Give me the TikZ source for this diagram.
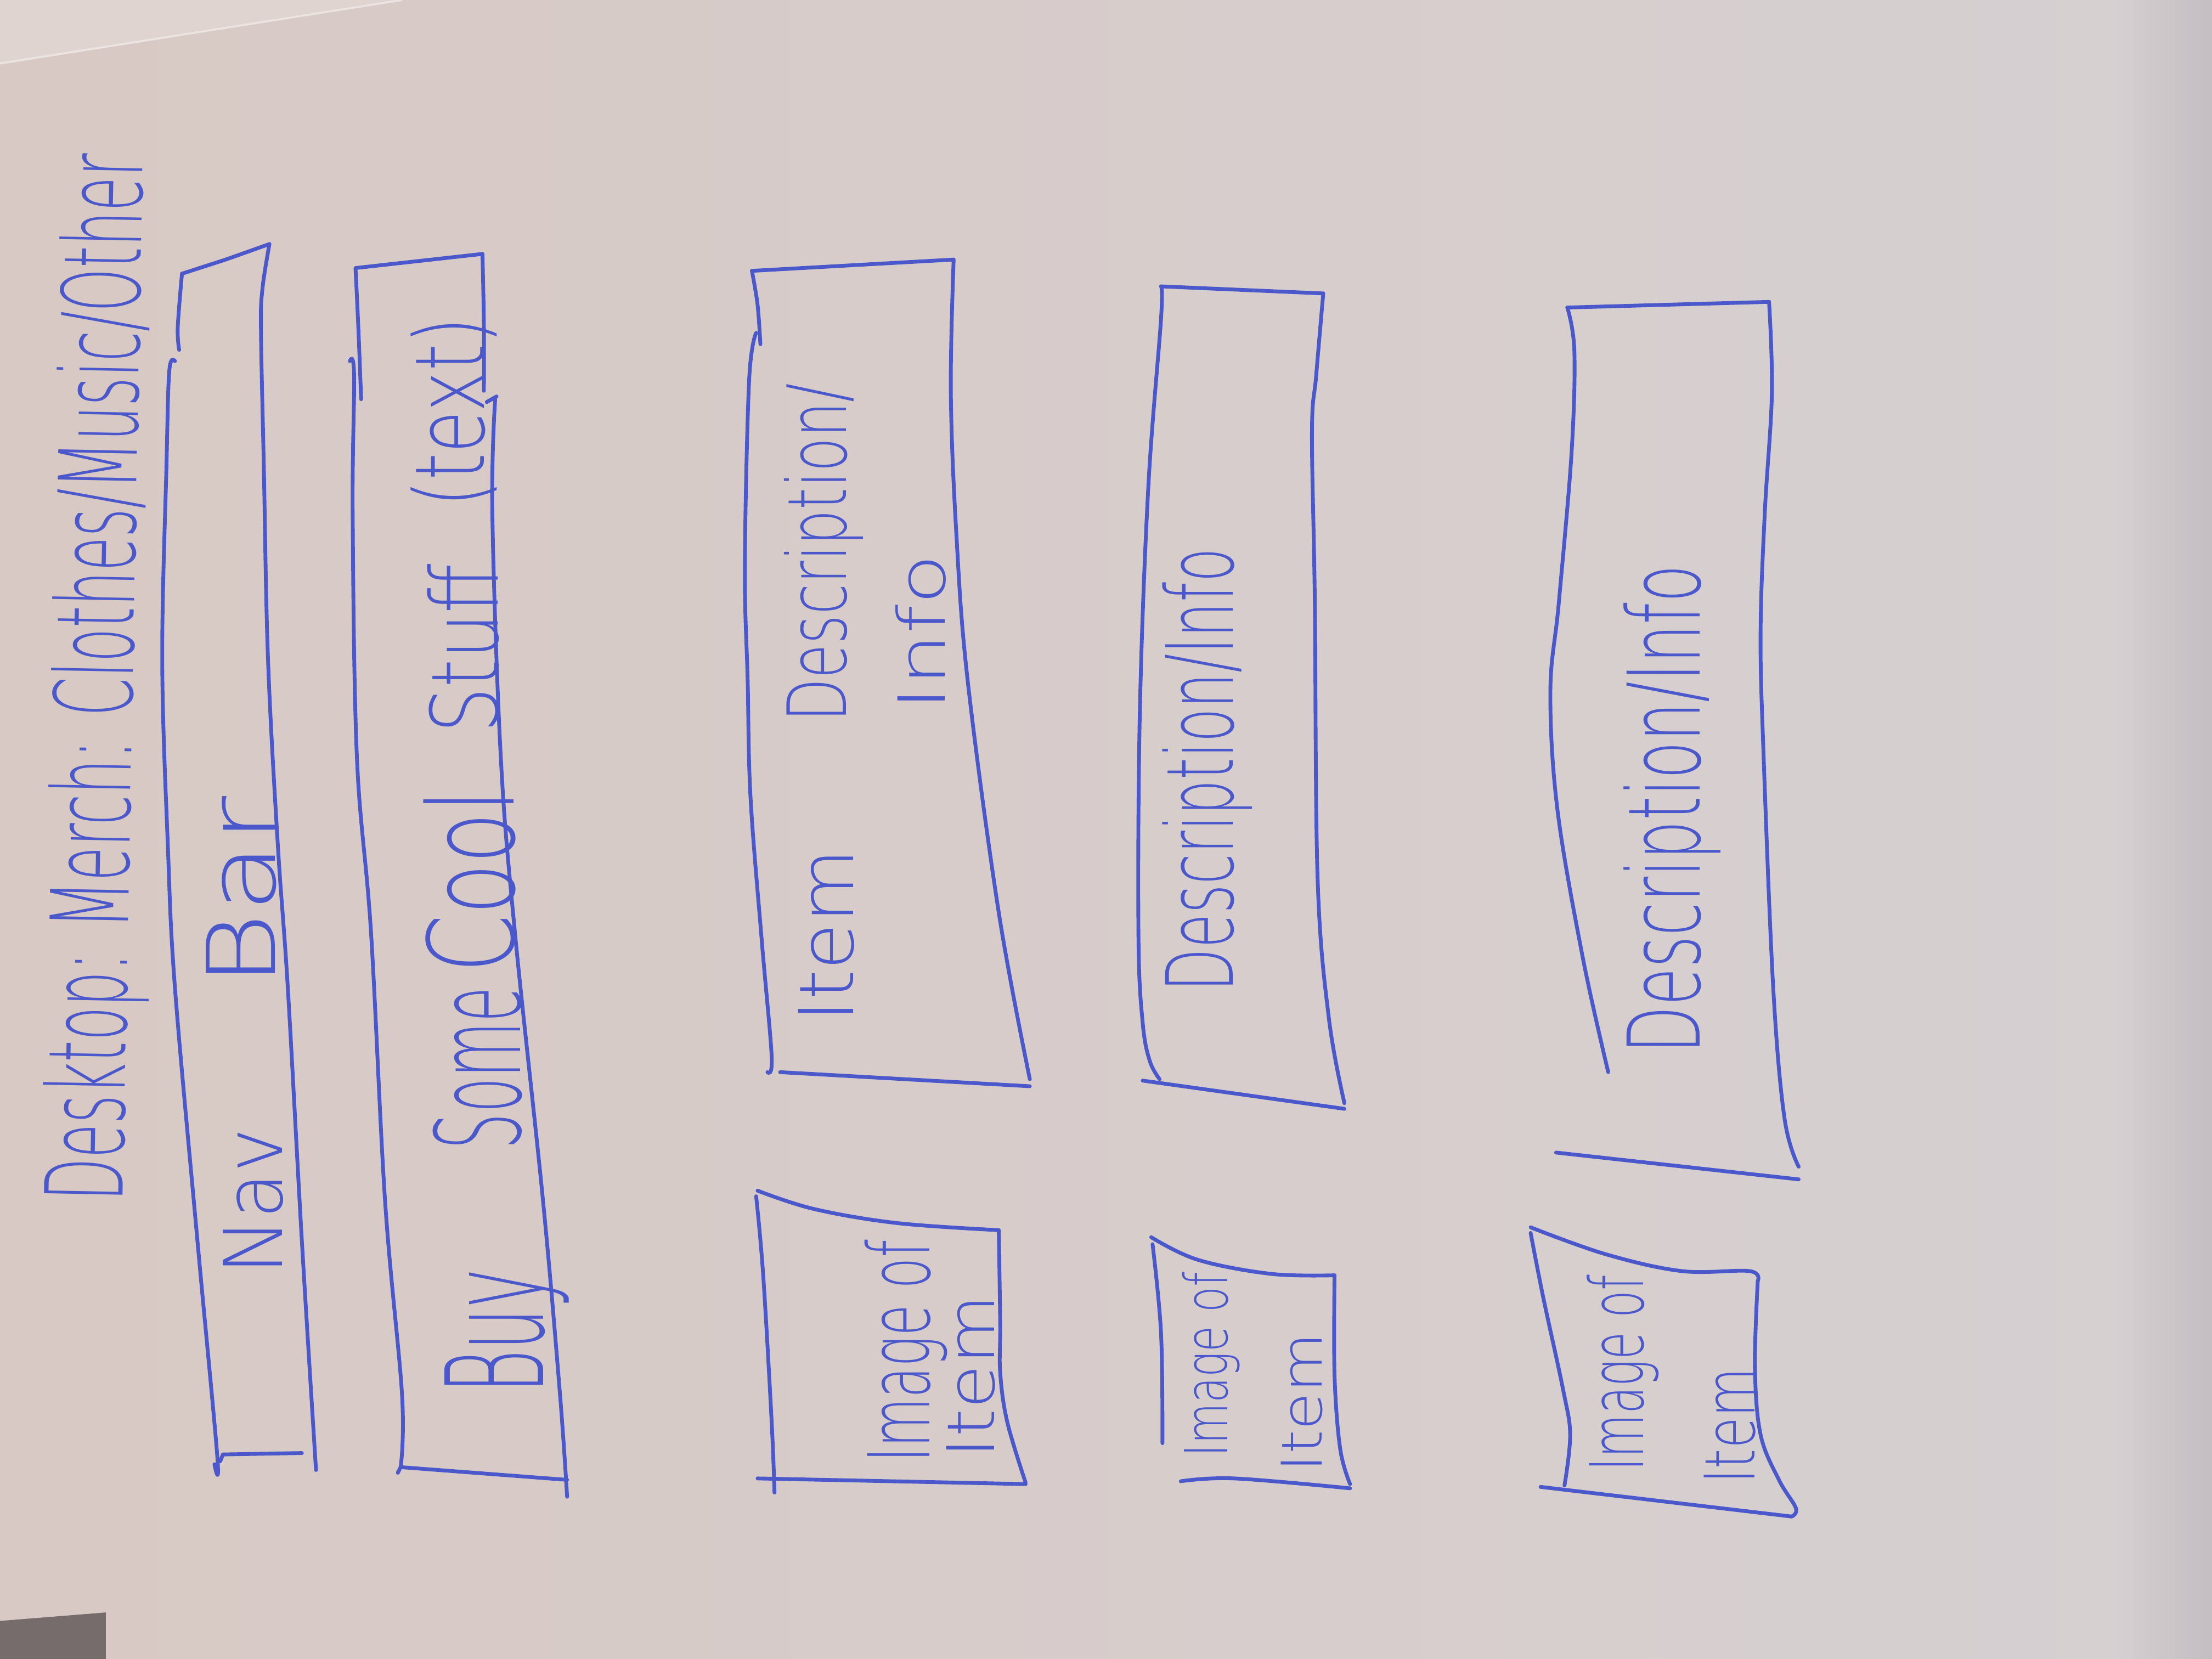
\documentclass[tikz,border=0pt]{standalone}
\usepackage{fontspec}
\usepackage{graphicx}
\newfontfamily\handfont{DejaVu Sans ExtraLight}
\newlength\hu
\setlength\hu{0.025cm}
% text stretched to a given length and ascender height (in sketch units)
\newcommand\hw[3]{\resizebox{#1\hu}{#2\hu}{\handfont #3}}
\definecolor{ink}{RGB}{74,88,204}
\definecolor{paperL}{RGB}{216,201,196}
\definecolor{paperM}{RGB}{222,212,209}
\definecolor{paperR}{RGB}{214,208,210}
\definecolor{paperEdge}{RGB}{196,189,193}
\definecolor{desk}{RGB}{118,108,107}
\begin{document}
\begin{tikzpicture}[x=0.025cm,y=-0.025cm,
  inkline/.style={draw=ink, line width=1.9pt, line cap=round, line join=round},
  handtext/.style={inner sep=0pt, anchor=base west, text=ink, rotate=90}]
\useasboundingbox (0,0) rectangle (1568,1176);
% paper
\shade[left color=paperL, middle color=paperM, right color=paperR, shading angle=90] (0,0) rectangle (1568,1176);
\shade[left color=paperR, right color=paperEdge, shading angle=90] (1500,0) rectangle (1568,1176);
\fill[paperL!80!white] (0,0) -- (285,0) -- (0,45) -- cycle;
\draw[paperL!50!white, line width=1pt] (0,45) -- (285,0);
\fill[desk] (0,1149) -- (75,1143) -- (75,1176) -- (0,1176) -- cycle;

% title
\node[handtext, rotate=-1.1] (title) at (87,852) {\hw{742}{58}{Desktop: Merch: Clothes/Music/Other}};

% nav bar
\draw[inkline] (129,194) -- (160,184) -- (191,173);
\draw[inkline] plot[smooth, tension=0.6] coordinates {(129,194) (126,232) (127,248)};
\draw[inkline] plot[smooth, tension=0.6] coordinates {(124,256) (120,263) (118,330) (115,468) (119,600) (124,700) (140,880) (154,1032) (152,1038)};
\draw[inkline] plot[smooth, tension=0.6] coordinates {(191,173) (186,205) (185,235) (187,330) (190,468) (197,600) (204,700) (214,880) (224,1042)};
\draw[inkline] (156,1036) -- (158,1031) -- (214,1030);
\node[handtext] (nav) at (200,904) {\hw{104}{42}{Nav}};
\node[handtext] (bar) at (195,700) {\hw{135}{49}{Bar}};

% banner
\draw[inkline] (252,190) -- (342,180);
\draw[inkline] plot[smooth, tension=0.6] coordinates {(252,190) (254,232) (256,283)};
\draw[inkline] plot[smooth, tension=0.6] coordinates {(248,256) (251,266) (250,364) (253,537) (263,661) (273,852) (285,989) (284,1040)};
\draw[inkline] plot[smooth, tension=0.6] coordinates {(342,180) (343,230) (343,277)};
\draw[inkline] (345,285) -- (352,281);
\draw[inkline] plot[smooth, tension=0.6] coordinates {(351,283) (349,364) (355,537) (365,661) (385,852) (397,989) (402,1061)};
\draw[inkline] (282,1044) -- (284,1040) -- (402,1049);
\node[handtext] (buy) at (385,988) {\hw{88}{70}{Buy}};
\node[handtext] (some) at (369,815) {\hw{115}{62}{Some}};
\node[handtext] (cool) at (364,690) {\hw{130}{64}{Cool}};
\node[handtext] (stuff) at (353,520) {\hw{120}{50}{Stuff}};
\node[handtext] (paren) at (343,360) {\hw{135}{52}{(text)}};

% item 1: description
\draw[inkline] (533,192) -- (676,184);
\draw[inkline] plot[smooth, tension=0.6] coordinates {(533,192) (537,216) (539,244)};
\draw[inkline] plot[smooth, tension=0.6] coordinates {(536,236) (531,270) (528,401) (530,483) (532,565) (540,667) (547,749) (544,760)};
\draw[inkline] plot[smooth, tension=0.6] coordinates {(676,184) (674,278) (678,380) (686,483) (708,647) (730,765)};
\draw[inkline] (553,760) -- (730,770);
\node[handtext] (item1) at (605,725) {\hw{123}{39}{Item}};
\node[handtext] (desc1a) at (600,512) {\hw{240}{44}{Description/}};
\node[handtext] (desc1b) at (670,504) {\hw{111}{35}{Info}};

% item 1: image
\draw[inkline] plot[smooth, tension=0.6] coordinates {(537,844) (577,857) (636,867) (708,872)};
\draw[inkline] plot[smooth, tension=0.6] coordinates {(536,848) (541,904) (547,1008) (549,1058)};
\draw[inkline] plot[smooth, tension=0.6] coordinates {(708,872) (709,939) (709,973) (714,1008) (727,1051)};
\draw[inkline] (537,1048) -- (727,1052);
\node[handtext] (img1a) at (659,1037) {\hw{158}{46}{Image of}};
\node[handtext] (img1b) at (705,1034) {\hw{116}{34}{Item}};

% item 2: description
\draw[inkline] (823,203) -- (938,208);
\draw[inkline] plot[smooth, tension=0.6] coordinates {(823,203) (823,226) (814,345) (808,504) (807,663) (810,725) (815,752) (822,765)};
\draw[inkline] plot[smooth, tension=0.6] coordinates {(938,208) (933,266) (930,306) (932,425) (934,623) (942,722) (953,782)};
\draw[inkline] (810,766) -- (953,786);
\node[handtext] (desc2) at (874,703) {\hw{314}{50}{Description/Info}};

% item 2: image
\draw[inkline] plot[smooth, tension=0.6] coordinates {(816,877) (849,893) (901,903) (946,904)};
\draw[inkline] plot[smooth, tension=0.6] coordinates {(946,904) (946,975) (950,1027) (957,1052)};
\draw[inkline] plot[smooth, tension=0.6] coordinates {(837,1050) (875,1048) (957,1055)};
\draw[inkline] plot[smooth, tension=0.6] coordinates {(817,882) (823,945) (824,1023)};
\node[handtext] (img2a) at (870,1033) {\hw{131}{32}{Image of}};
\node[handtext] (img2b) at (937,1044) {\hw{99}{29}{Item}};

% item 3: description
\draw[inkline] (1111,218) -- (1254,214);
\draw[inkline] plot[smooth, tension=0.6] coordinates {(1111,218) (1116,249) (1114,321) (1105,427) (1099,490) (1104,574) (1122,679) (1140,760)};
\draw[inkline] plot[smooth, tension=0.6] coordinates {(1254,214) (1256,279) (1251,363) (1248,448) (1250,532) (1257,701) (1265,793) (1275,827)};
\draw[inkline] (1103,817) -- (1275,836);
\node[handtext] (desc3) at (1205,747) {\hw{346}{54}{Description/Info}};

% item 3: image
\draw[inkline] plot[smooth, tension=0.6] coordinates {(1085,870) (1138,889) (1192,901) (1240,901) (1246,908)};
\draw[inkline] plot[smooth, tension=0.6] coordinates {(1246,908) (1244,969) (1248,1017) (1261,1049) (1273,1069) (1270,1075)};
\draw[inkline] (1092,1054) -- (1270,1075);
\draw[inkline] plot[smooth, tension=0.6] coordinates {(1085,874) (1094,920) (1108,985) (1113,1017) (1109,1053)};
\node[handtext] (img3a) at (1165,1043) {\hw{139}{40}{Image of}};
\node[handtext] (img3b) at (1244,1052) {\hw{82}{36}{Item}};
\end{tikzpicture}
\end{document}
